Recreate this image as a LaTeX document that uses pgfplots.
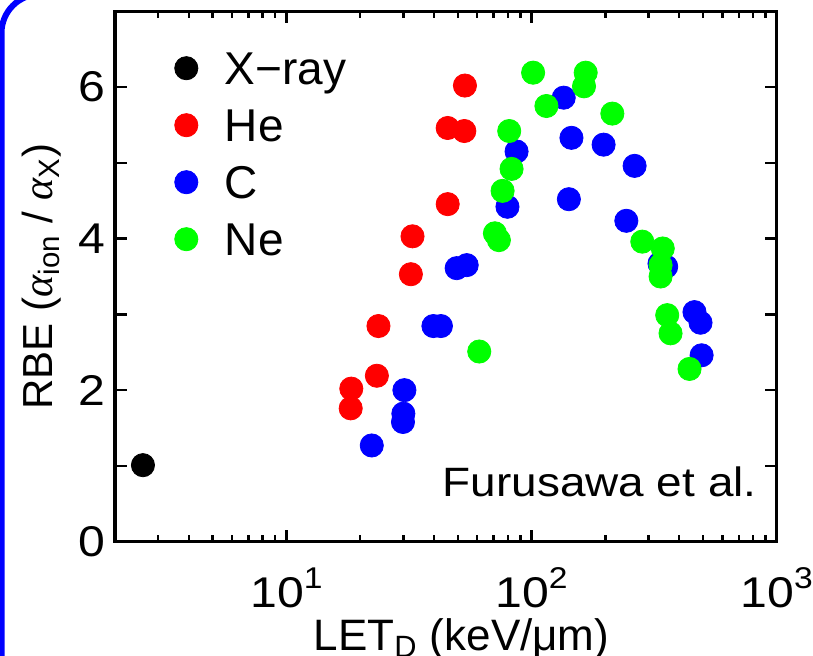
\documentclass[border=0pt]{standalone}
\usepackage{pgfplots}
\pgfplotsset{compat=1.18}
\usepackage{fontspec}
\setmainfont{Liberation Sans}
\newfontfamily\tickfont{Liberation Sans}[FakeStretch=1.12]
\newfontfamily\notefont{Liberation Sans}[FakeStretch=1.12]
\newfontfamily\greekit{Liberation Serif}
\definecolor{pblue}{RGB}{0,0,255}
\definecolor{pgreen}{RGB}{0,255,0}
\definecolor{pred}{RGB}{255,0,0}
\newcommand{\pw}[1]{10\raisebox{0.45em}{\fontsize{15}{17}\selectfont #1}}

\begin{document}
\begin{tikzpicture}
\useasboundingbox (0,0) rectangle (406.5pt,328pt);
\draw[pblue, line width=3pt, rounded corners=19.35pt] (0.75pt,-60pt) rectangle (600pt,330.85pt);
\begin{axis}[
  at={(57.5pt,57.15pt)}, anchor=south west,
  scale only axis, width=330.85pt, height=265.2pt,
  xmode=log, xmin=2, xmax=1000, ymin=0, ymax=7,
  xtick={10,100,1000},
  xticklabels={\pw{1},\pw{2},\pw{3}},
  minor xtick={3,4,5,6,7,8,9,20,30,40,50,60,70,80,90,200,300,400,500,600,700,800,900},
  ytick={0,1,2,3,4,5,6,7}, yticklabels={0,,2,,4,,6,},
  tick align=inside,
  major tick length=6pt, minor tick length=3.25pt,
  every tick/.style={black, line width=1.2pt},
  axis line style={line width=1.6pt},
  ticklabel style={font=\tickfont\fontsize{21.5}{24}\selectfont},
  xticklabel style={anchor=base, yshift=-33pt, inner sep=0pt},
  yticklabel style={anchor=east, inner sep=0pt, xshift=-4.5pt},
  xlabel={LET\textsubscript{D} (keV/μm)},
  ylabel={RBE ({\greekit\itshape α}\textsubscript{ion} / {\greekit\itshape α}\textsubscript{X})},
  every axis x label/.style={at={(axis description cs:0.5237,0)}, anchor=base, yshift=-54.6pt,
    font=\fontsize{22}{25}\selectfont},
  every axis y label/.style={at={(axis description cs:-0.1103,0.5)}, rotate=90, anchor=center,
    font=\fontsize{21}{24}\selectfont},
  legend style={draw=none, fill=none, at={(axis description cs:0,1)}, anchor=north west,
    xshift=29.85pt, yshift=-20.2pt, inner sep=0pt, outer sep=0pt,
    row sep=12pt, column sep=13.5pt, font=\fontsize{23}{26}\selectfont,
    nodes={inner sep=0pt, outer sep=0pt, text height=16.5pt, text depth=0pt}},
  legend cell align=left,
  legend image code/.code={\draw[#1] plot coordinates {(0pt,0pt)};},
]
\addplot[only marks, mark=*, mark size=5.8pt, color=black] coordinates {(2.6,1.01)};
\addlegendentry{X−ray}
\addplot[only marks, mark=*, mark size=5.8pt, color=pred] coordinates {
(53.5,6.02) (45.5,5.46) (53.2,5.42) (45.5,4.455) (32.7,4.03) (32.2,3.53)
(23.75,2.846) (23.4,2.19) (18.4,2.02) (18.3,1.76)};
\addlegendentry{He}
\addplot[only marks, mark=*, mark size=5.8pt, color=pblue] coordinates {
(135.3,5.86) (145.5,5.33) (86.9,5.15) (142,4.52) (79.8,4.42) (49.5,3.61) (54.4,3.65)
(196.8,5.24) (263.3,4.96) (243.6,4.235) (332.6,3.67) (354.3,3.63) (462,3.03) (489,2.89)
(494,2.46) (39.8,2.846) (42.7,2.846) (30.3,2.0) (30.0,1.69) (29.9,1.58) (22.3,1.27)};
\addlegendentry{C}
\addplot[only marks, mark=*, mark size=5.8pt, color=pgreen] coordinates {
(101.5,6.19) (166.3,6.19) (163.7,6.01) (115,5.75) (213.6,5.65) (81.1,5.42) (82.9,4.92)
(76.2,4.63) (70.9,4.07) (73.6,3.98) (61.2,2.51) (283,3.96) (343,3.87) (336,3.65)
(336,3.50) (357.7,2.99) (369,2.75) (441,2.28)};
\addlegendentry{Ne}
\node[anchor=base east, inner sep=0pt, xshift=-9.85pt, yshift=22.5pt,
  font=\notefont\fontsize{20.5}{23}\selectfont] at (rel axis cs:1,0) {Furusawa et al.};
\end{axis}
\end{tikzpicture}
\end{document}
